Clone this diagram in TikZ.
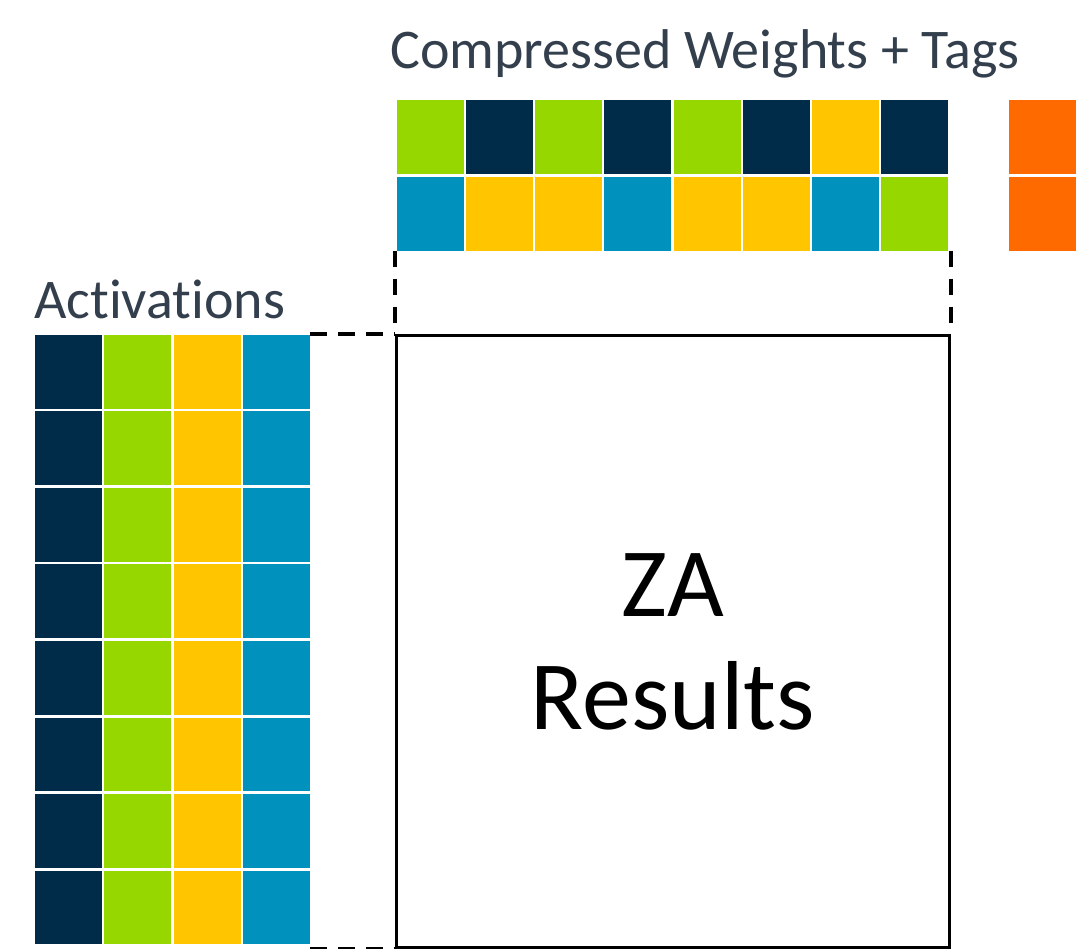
\documentclass[tikz,border=0pt]{standalone}
\usepackage{fontspec}
\setmainfont{Carlito}[Ligatures=CommonOff]
\definecolor{cnavy}{HTML}{002B49}
\definecolor{cgreen}{HTML}{97D700}
\definecolor{cyellow}{HTML}{FFC600}
\definecolor{cblue}{HTML}{0092BC}
\definecolor{corange}{HTML}{FF6A00}
\definecolor{textgray}{HTML}{333F4C}
\begin{document}
\begin{tikzpicture}[x=1pt,y=-1pt,
  cell/.style={rectangle, inner sep=0pt, outer sep=0pt, minimum width=67pt, minimum height=74pt, anchor=north west},
  lbl/.style={text=textgray, font=\fontsize{56}{62}\selectfont, inner sep=0pt, anchor=base west},
  link/.style={line width=4pt, dash pattern=on 17pt off 11pt}]
\useasboundingbox (0,0) rectangle (1080,949);
% compressed weights
\foreach \c [count=\i] in {cgreen,cnavy,cgreen,cnavy,cgreen,cnavy,cyellow,cnavy}
  \node[cell, fill=\c] (w-1-\i) at ({396.7+(\i-1)*69.2},100) {};
\foreach \c [count=\i] in {cblue,cyellow,cyellow,cblue,cyellow,cyellow,cblue,cgreen}
  \node[cell, fill=\c] (w-2-\i) at ({396.7+(\i-1)*69.2},176.7) {};
% tags
\node[cell, fill=corange] (t-1) at (1008.7,100) {};
\node[cell, fill=corange] (t-2) at (1008.7,176.7) {};
% activations
\foreach \r in {1,...,8}
  \foreach \c [count=\j] in {cnavy,cgreen,cyellow,cblue}
    \node[cell, minimum height=73.7pt, fill=\c] (a-\r-\j) at ({35+(\j-1)*69.3},{335+(\r-1)*76.5}) {};
% results box
\node[draw, line width=3pt, rectangle, inner sep=0pt, minimum width=553.5pt, minimum height=611.3pt,
      anchor=north west, font=\fontsize{98}{113}\selectfont, align=center] (za) at (394.5,334.5) {ZA\\Results};
% labels
\node[lbl] (wt) at (390,69) {Compressed Weights + Tags};
\node[lbl] (at) at (34,318.3) {Activations};
% dashed links
\draw[link] (a-1-4.north east |- za.north west) -- (za.north west);
\draw[link] (a-8-4.east |- za.south west) -- (za.south west);
\draw[link, dash pattern=on 16pt off 12pt] (za.north west |- w-2-1.south) -- (za.north west);
\draw[link, dash pattern=on 16pt off 12pt] (za.north east |- w-2-8.south) -- (za.north east);
\end{tikzpicture}
\end{document}
